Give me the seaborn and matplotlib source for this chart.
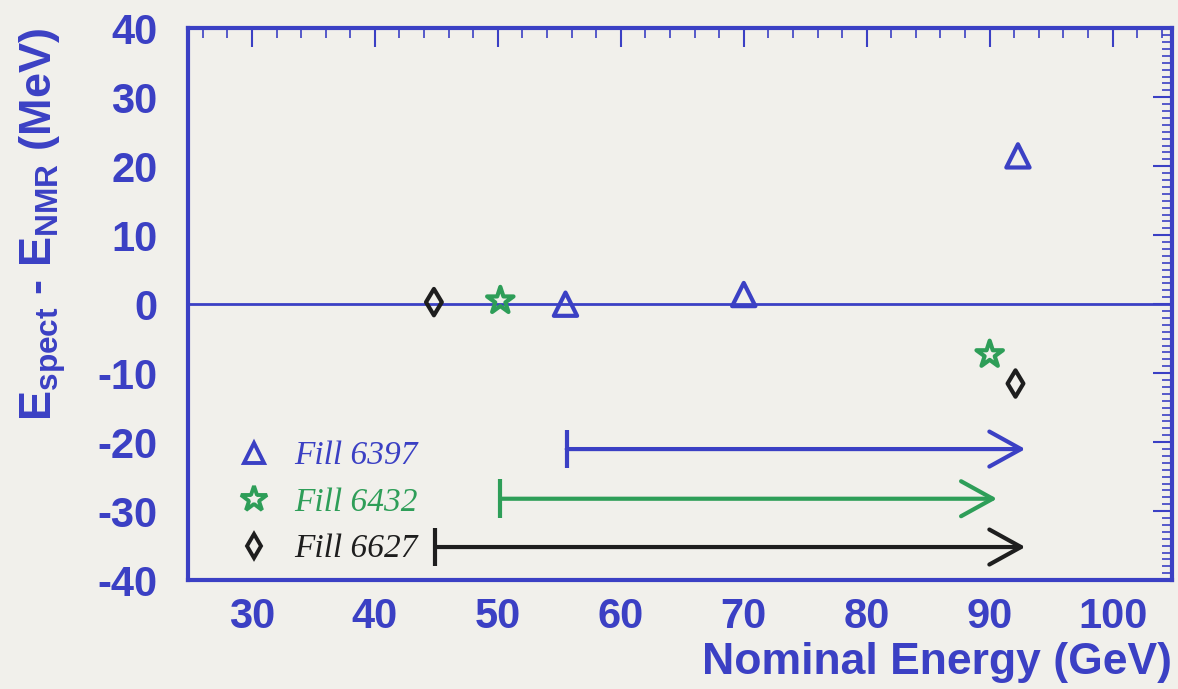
import matplotlib
matplotlib.use("Agg")
import matplotlib.pyplot as plt
from matplotlib.lines import Line2D
from matplotlib.ticker import MultipleLocator
import seaborn as sns
import pandas as pd

# ---- data ----
fill_labels = ["Fill 6397", "Fill 6432", "Fill 6627"]
fill_colors = ["#3b40c4", "#2e9e58", "#1e1e1e"]
fill_markers = ["^", "*", "d"]

e_6397 = [55.5, 70.0, 92.3]
d_6397 = [0.0, 1.4, 21.5]
e_6432 = [50.2, 90.0]
d_6432 = [0.5, -7.3]
e_6627 = [44.8, 92.1]
d_6627 = [0.3, -11.5]

arrow_start = [55.6, 50.2, 44.9]
arrow_end = [92.9, 90.6, 92.9]
arrow_y = [-21.0, -28.2, -35.2]

BLUE = "#3b40c4"
BG = "#f1f0eb"

sns.set_theme(style="white")
plt.rcParams["font.family"] = ["Liberation Sans", "DejaVu Sans"]
plt.rcParams["axes.unicode_minus"] = False
plt.rcParams["mathtext.fontset"] = "custom"
plt.rcParams["mathtext.rm"] = "Liberation Sans:bold"
plt.rcParams["mathtext.bf"] = "Liberation Sans:bold"
plt.rcParams["mathtext.it"] = "Liberation Sans:bold"

fig = plt.figure(figsize=(11.78, 6.89), dpi=100, facecolor=BG)
ax = fig.add_axes([0.1596, 0.158, 0.835, 0.801])
ax.set_facecolor(BG)

series = [(e_6397, d_6397), (e_6432, d_6432), (e_6627, d_6627)]
msizes = [280, 400, 180]
for (xs, ys), lab, col, mk, ms in zip(series, fill_labels, fill_colors, fill_markers, msizes):
    df = pd.DataFrame({"E": xs, "D": ys})
    sns.scatterplot(data=df, x="E", y="D", marker=mk, s=ms, facecolor="none",
                    edgecolor=col, linewidth=3.0, ax=ax, legend=False, zorder=5)

ax.axhline(0, color=BLUE, lw=2.0, zorder=2)

for x0, x1, y, col in zip(arrow_start, arrow_end, arrow_y, fill_colors):
    ax.annotate("", xy=(x1, y), xytext=(x0, y),
                arrowprops=dict(arrowstyle="->,head_length=1.9,head_width=1.05",
                                color=col, lw=3.0, shrinkA=0, shrinkB=0))
    ax.vlines(x0, y - 2.8, y + 2.8, color=col, lw=3.0)

ax.set_xlim(24.8, 104.8)
ax.set_ylim(-40, 40)
ax.xaxis.set_major_locator(MultipleLocator(10))
ax.xaxis.set_minor_locator(MultipleLocator(2))
ax.yaxis.set_major_locator(MultipleLocator(10))
ax.yaxis.set_minor_locator(MultipleLocator(1))

for s in ax.spines.values():
    s.set_color(BLUE)
    s.set_linewidth(3)

ax.tick_params(which="both", direction="in", top=True, right=True, color=BLUE)
ax.tick_params(which="major", length=14, width=1.5)
ax.tick_params(which="minor", length=7, width=1.2)
ax.tick_params(axis="y", which="major", pad=22, labelsize=30, labelcolor=BLUE)
ax.tick_params(axis="x", which="major", pad=12, labelsize=30, labelcolor=BLUE)
for lbl in ax.get_xticklabels() + ax.get_yticklabels():
    lbl.set_fontweight("bold")

ax.set_xlabel("Nominal Energy (GeV)", loc="right", fontsize=32, fontweight="bold",
              color=BLUE, labelpad=4)
ax.set_ylabel(r"E$_{\mathbf{spect}}$ - E$_{\mathbf{NMR}}$ (MeV)", loc="top",
              fontsize=32.5, fontweight="bold", color=BLUE, labelpad=21)

handles = [Line2D([], [], ls="none", marker=mk, markersize=sz, markerfacecolor="none",
                  markeredgecolor=col, markeredgewidth=2.8, label=lab)
           for mk, col, lab, sz in zip(fill_markers, fill_colors, fill_labels, [15, 19, 12])]
leg = ax.legend(handles=handles, loc="lower left", bbox_to_anchor=(0.02, -0.026),
                frameon=False, handlelength=1.0, handletextpad=0.7, labelspacing=0.48,
                prop={"family": "Liberation Serif", "style": "italic", "size": 24},
                labelcolor=fill_colors)

fig.savefig("out.png", dpi=100, facecolor=BG)
